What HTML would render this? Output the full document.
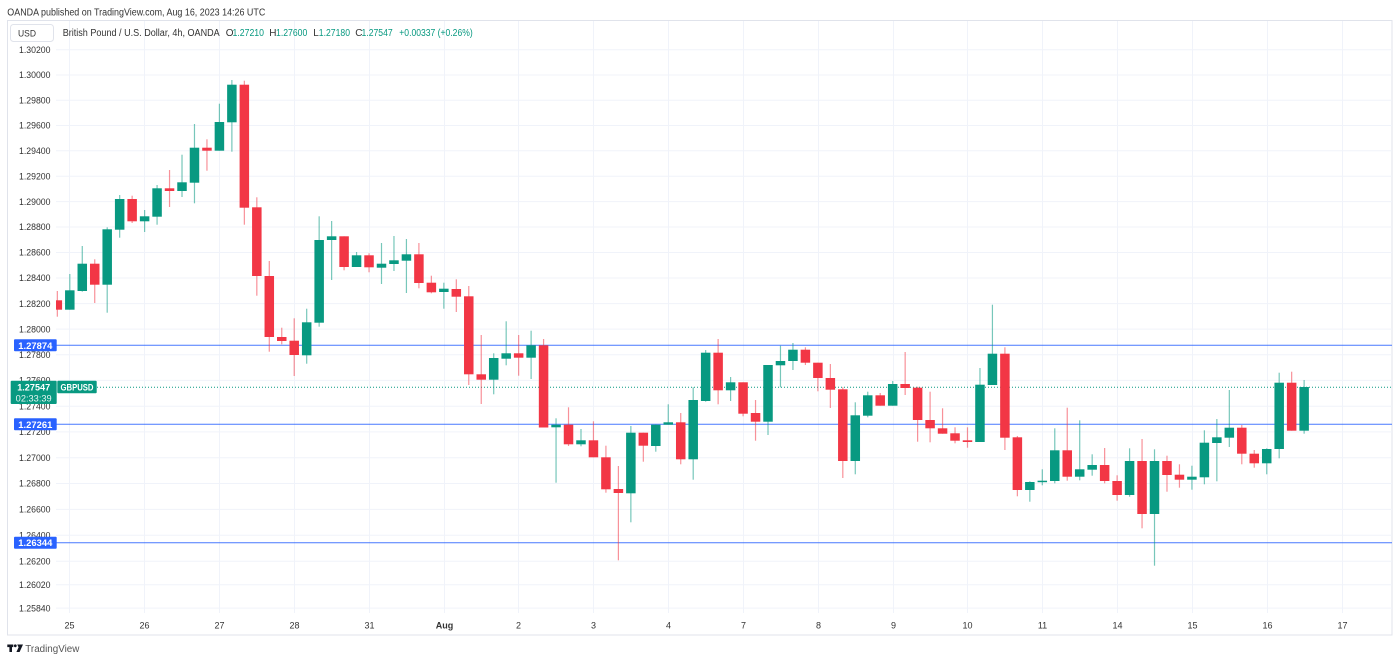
<!DOCTYPE html>
<html>
<head>
<meta charset="utf-8">
<style>
html,body{margin:0;padding:0;background:#fff;}
svg{display:block;}
text{font-family:"Liberation Sans",Arial,sans-serif;}
.g{fill:#089981}.r{fill:#f23645}.w{opacity:.55}
.pl{font-size:9px;fill:#333;text-anchor:end}
.dl{font-size:9px;fill:#333;text-anchor:middle}
.grid line{stroke:#f0f3fa;stroke-width:1}
</style>
</head>
<body>
<svg width="1400" height="662" viewBox="0 0 1400 662" xmlns="http://www.w3.org/2000/svg">
<rect x="0" y="0" width="1400" height="662" fill="#fff"/>
<text x="7.3" y="15.3" font-size="10" fill="#333" textLength="258" lengthAdjust="spacingAndGlyphs">OANDA published on TradingView.com, Aug 16, 2023 14:26 UTC</text>
<rect x="7.5" y="20.5" width="1384.5" height="614.5" fill="none" stroke="#e0e3eb" stroke-width="1"/>

<g class="grid">
<line x1="56" y1="49.8" x2="1392" y2="49.8"/>
<line x1="56" y1="75" x2="1392" y2="75"/>
<line x1="56" y1="100.2" x2="1392" y2="100.2"/>
<line x1="56" y1="125.5" x2="1392" y2="125.5"/>
<line x1="56" y1="150.8" x2="1392" y2="150.8"/>
<line x1="56" y1="176.2" x2="1392" y2="176.2"/>
<line x1="56" y1="201.6" x2="1392" y2="201.6"/>
<line x1="56" y1="227" x2="1392" y2="227"/>
<line x1="56" y1="252.5" x2="1392" y2="252.5"/>
<line x1="56" y1="278" x2="1392" y2="278"/>
<line x1="56" y1="303.6" x2="1392" y2="303.6"/>
<line x1="56" y1="329.1" x2="1392" y2="329.1"/>
<line x1="56" y1="354.8" x2="1392" y2="354.8"/>
<line x1="56" y1="380.4" x2="1392" y2="380.4"/>
<line x1="56" y1="406.2" x2="1392" y2="406.2"/>
<line x1="56" y1="431.9" x2="1392" y2="431.9"/>
<line x1="56" y1="457.7" x2="1392" y2="457.7"/>
<line x1="56" y1="483.5" x2="1392" y2="483.5"/>
<line x1="56" y1="509.4" x2="1392" y2="509.4"/>
<line x1="56" y1="535.3" x2="1392" y2="535.3"/>
<line x1="56" y1="561.3" x2="1392" y2="561.3"/>
<line x1="56" y1="584.7" x2="1392" y2="584.7"/>
<line x1="56" y1="608.1" x2="1392" y2="608.1"/>
<line x1="69.5" y1="21" x2="69.5" y2="613"/>
<line x1="144.5" y1="21" x2="144.5" y2="613"/>
<line x1="219.5" y1="21" x2="219.5" y2="613"/>
<line x1="294.5" y1="21" x2="294.5" y2="613"/>
<line x1="369.5" y1="21" x2="369.5" y2="613"/>
<line x1="444.5" y1="21" x2="444.5" y2="613"/>
<line x1="518.5" y1="21" x2="518.5" y2="613"/>
<line x1="593.5" y1="21" x2="593.5" y2="613"/>
<line x1="668.5" y1="21" x2="668.5" y2="613"/>
<line x1="743.5" y1="21" x2="743.5" y2="613"/>
<line x1="818.5" y1="21" x2="818.5" y2="613"/>
<line x1="893.5" y1="21" x2="893.5" y2="613"/>
<line x1="967.5" y1="21" x2="967.5" y2="613"/>
<line x1="1042.5" y1="21" x2="1042.5" y2="613"/>
<line x1="1117.5" y1="21" x2="1117.5" y2="613"/>
<line x1="1192.5" y1="21" x2="1192.5" y2="613"/>
<line x1="1267.5" y1="21" x2="1267.5" y2="613"/>
<line x1="1342.5" y1="21" x2="1342.5" y2="613"/>
</g>

<g>
<text class="pl" x="50.5" y="53" textLength="31.5" lengthAdjust="spacingAndGlyphs">1.30200</text>
<text class="pl" x="50.5" y="78.2" textLength="31.5" lengthAdjust="spacingAndGlyphs">1.30000</text>
<text class="pl" x="50.5" y="103.4" textLength="31.5" lengthAdjust="spacingAndGlyphs">1.29800</text>
<text class="pl" x="50.5" y="128.7" textLength="31.5" lengthAdjust="spacingAndGlyphs">1.29600</text>
<text class="pl" x="50.5" y="154" textLength="31.5" lengthAdjust="spacingAndGlyphs">1.29400</text>
<text class="pl" x="50.5" y="179.4" textLength="31.5" lengthAdjust="spacingAndGlyphs">1.29200</text>
<text class="pl" x="50.5" y="204.8" textLength="31.5" lengthAdjust="spacingAndGlyphs">1.29000</text>
<text class="pl" x="50.5" y="230.2" textLength="31.5" lengthAdjust="spacingAndGlyphs">1.28800</text>
<text class="pl" x="50.5" y="255.7" textLength="31.5" lengthAdjust="spacingAndGlyphs">1.28600</text>
<text class="pl" x="50.5" y="281.2" textLength="31.5" lengthAdjust="spacingAndGlyphs">1.28400</text>
<text class="pl" x="50.5" y="306.8" textLength="31.5" lengthAdjust="spacingAndGlyphs">1.28200</text>
<text class="pl" x="50.5" y="332.3" textLength="31.5" lengthAdjust="spacingAndGlyphs">1.28000</text>
<text class="pl" x="50.5" y="358" textLength="31.5" lengthAdjust="spacingAndGlyphs">1.27800</text>
<text class="pl" x="50.5" y="383.6" textLength="31.5" lengthAdjust="spacingAndGlyphs">1.27600</text>
<text class="pl" x="50.5" y="409.4" textLength="31.5" lengthAdjust="spacingAndGlyphs">1.27400</text>
<text class="pl" x="50.5" y="435.1" textLength="31.5" lengthAdjust="spacingAndGlyphs">1.27200</text>
<text class="pl" x="50.5" y="460.9" textLength="31.5" lengthAdjust="spacingAndGlyphs">1.27000</text>
<text class="pl" x="50.5" y="486.7" textLength="31.5" lengthAdjust="spacingAndGlyphs">1.26800</text>
<text class="pl" x="50.5" y="512.6" textLength="31.5" lengthAdjust="spacingAndGlyphs">1.26600</text>
<text class="pl" x="50.5" y="538.5" textLength="31.5" lengthAdjust="spacingAndGlyphs">1.26400</text>
<text class="pl" x="50.5" y="564.5" textLength="31.5" lengthAdjust="spacingAndGlyphs">1.26200</text>
<text class="pl" x="50.5" y="587.9" textLength="31.5" lengthAdjust="spacingAndGlyphs">1.26020</text>
<text class="pl" x="50.5" y="611.3" textLength="31.5" lengthAdjust="spacingAndGlyphs">1.25840</text>
</g>

<g>
<text class="dl" x="69.5" y="628.3">25</text>
<text class="dl" x="144.5" y="628.3">26</text>
<text class="dl" x="219.5" y="628.3">27</text>
<text class="dl" x="294.5" y="628.3">28</text>
<text class="dl" x="369.5" y="628.3">31</text>
<text class="dl" x="444.5" y="628.3" font-weight="bold">Aug</text>
<text class="dl" x="518.5" y="628.3">2</text>
<text class="dl" x="593.5" y="628.3">3</text>
<text class="dl" x="668.5" y="628.3">4</text>
<text class="dl" x="743.5" y="628.3">7</text>
<text class="dl" x="818.5" y="628.3">8</text>
<text class="dl" x="893.5" y="628.3">9</text>
<text class="dl" x="967.5" y="628.3">10</text>
<text class="dl" x="1042.5" y="628.3">11</text>
<text class="dl" x="1117.5" y="628.3">14</text>
<text class="dl" x="1192.5" y="628.3">15</text>
<text class="dl" x="1267.5" y="628.3">16</text>
<text class="dl" x="1342.5" y="628.3">17</text>
</g>

<defs><clipPath id="pc"><rect x="56" y="21" width="1336" height="592"/></clipPath></defs>

<g clip-path="url(#pc)">
<line x1="56" y1="345.3" x2="1392" y2="345.3" stroke="#2962ff" stroke-width="1" opacity=".85"/>
<line x1="56" y1="424.3" x2="1392" y2="424.3" stroke="#2962ff" stroke-width="1" opacity=".85"/>
<line x1="56" y1="542.7" x2="1392" y2="542.7" stroke="#2962ff" stroke-width="1" opacity=".85"/>
<line x1="97" y1="387.3" x2="1392" y2="387.3" stroke="#089981" stroke-width="1" stroke-dasharray="1,2"/>

<rect class="r w" x="56.73" y="291" width="1.2" height="25.7"/><rect class="r" x="52.58" y="300.3" width="9.5" height="9.4"/>
<rect class="g w" x="69.2" y="274" width="1.2" height="35.7"/><rect class="g" x="65.05" y="290.3" width="9.5" height="19.4"/>
<rect class="g w" x="81.67" y="246" width="1.2" height="45.7"/><rect class="g" x="77.52" y="263.7" width="9.5" height="27.3"/>
<rect class="r w" x="94.13" y="259.3" width="1.2" height="43.7"/><rect class="r" x="89.98" y="263.7" width="9.5" height="21"/>
<rect class="g w" x="106.6" y="227.3" width="1.2" height="85.4"/><rect class="g" x="102.45" y="229.3" width="9.5" height="55.4"/>
<rect class="g w" x="119.07" y="195" width="1.2" height="42.7"/><rect class="g" x="114.92" y="199" width="9.5" height="30.7"/>
<rect class="r w" x="131.54" y="195.7" width="1.2" height="27.3"/><rect class="r" x="127.39" y="199" width="9.5" height="22.3"/>
<rect class="g w" x="144.01" y="210" width="1.2" height="22"/><rect class="g" x="139.86" y="216.3" width="9.5" height="5"/>
<rect class="g w" x="156.47" y="185" width="1.2" height="39.7"/><rect class="g" x="152.32" y="188.3" width="9.5" height="28.4"/>
<rect class="r w" x="168.94" y="170" width="1.2" height="37"/><rect class="r" x="164.79" y="188.3" width="9.5" height="2.7"/>
<rect class="g w" x="181.41" y="154.7" width="1.2" height="42.3"/><rect class="g" x="177.26" y="182.3" width="9.5" height="8.7"/>
<rect class="g w" x="193.88" y="124" width="1.2" height="79.3"/><rect class="g" x="189.73" y="147.7" width="9.5" height="35"/>
<rect class="r w" x="206.35" y="139.3" width="1.2" height="31.4"/><rect class="r" x="202.2" y="147.7" width="9.5" height="3"/>
<rect class="g w" x="218.81" y="103.7" width="1.2" height="47"/><rect class="g" x="214.66" y="122" width="9.5" height="28.7"/>
<rect class="g w" x="231.28" y="80" width="1.2" height="71.7"/><rect class="g" x="227.13" y="84.7" width="9.5" height="37.6"/>
<rect class="r w" x="243.75" y="80.7" width="1.2" height="144"/><rect class="r" x="239.6" y="84.7" width="9.5" height="123"/>
<rect class="r w" x="256.22" y="197.3" width="1.2" height="98.4"/><rect class="r" x="252.07" y="207.3" width="9.5" height="68.7"/>
<rect class="r w" x="268.69" y="261" width="1.2" height="90.7"/><rect class="r" x="264.54" y="276" width="9.5" height="61"/>
<rect class="r w" x="281.15" y="327.7" width="1.2" height="16.6"/><rect class="r" x="277" y="337" width="9.5" height="4"/>
<rect class="r w" x="293.62" y="318.3" width="1.2" height="57.7"/><rect class="r" x="289.47" y="340.7" width="9.5" height="14.3"/>
<rect class="g w" x="306.09" y="308.7" width="1.2" height="55"/><rect class="g" x="301.94" y="322.3" width="9.5" height="33"/>
<rect class="g w" x="318.56" y="216.3" width="1.2" height="110.4"/><rect class="g" x="314.41" y="240" width="9.5" height="82.7"/>
<rect class="g w" x="331.03" y="221" width="1.2" height="59"/><rect class="g" x="326.88" y="236.3" width="9.5" height="3.7"/>
<rect class="r w" x="343.49" y="236.3" width="1.2" height="34"/><rect class="r" x="339.34" y="236.3" width="9.5" height="30.7"/>
<rect class="g w" x="355.96" y="252" width="1.2" height="15"/><rect class="g" x="351.81" y="255.3" width="9.5" height="11.7"/>
<rect class="r w" x="368.43" y="253.3" width="1.2" height="19"/><rect class="r" x="364.28" y="255.3" width="9.5" height="12"/>
<rect class="g w" x="380.9" y="243" width="1.2" height="41"/><rect class="g" x="376.75" y="263.7" width="9.5" height="4"/>
<rect class="g w" x="393.37" y="236" width="1.2" height="35"/><rect class="g" x="389.22" y="260.3" width="9.5" height="3.7"/>
<rect class="g w" x="405.83" y="239" width="1.2" height="54"/><rect class="g" x="401.68" y="254.3" width="9.5" height="6.4"/>
<rect class="r w" x="418.3" y="243" width="1.2" height="45.3"/><rect class="r" x="414.15" y="254.3" width="9.5" height="28.7"/>
<rect class="r w" x="430.77" y="275.7" width="1.2" height="17.6"/><rect class="r" x="426.62" y="282.7" width="9.5" height="9.6"/>
<rect class="g w" x="443.24" y="282.7" width="1.2" height="26"/><rect class="g" x="439.09" y="288.7" width="9.5" height="3.3"/>
<rect class="r w" x="455.71" y="279.3" width="1.2" height="32.7"/><rect class="r" x="451.56" y="289" width="9.5" height="7.7"/>
<rect class="r w" x="468.17" y="286" width="1.2" height="99"/><rect class="r" x="464.02" y="296.3" width="9.5" height="78"/>
<rect class="r w" x="480.64" y="335" width="1.2" height="69"/><rect class="r" x="476.49" y="374.3" width="9.5" height="5.4"/>
<rect class="g w" x="493.11" y="353.3" width="1.2" height="41"/><rect class="g" x="488.96" y="358" width="9.5" height="21.7"/>
<rect class="g w" x="505.58" y="321.3" width="1.2" height="44"/><rect class="g" x="501.43" y="353.3" width="9.5" height="5.4"/>
<rect class="r w" x="518.05" y="335" width="1.2" height="40.7"/><rect class="r" x="513.9" y="353.3" width="9.5" height="4.4"/>
<rect class="g w" x="530.51" y="330.7" width="1.2" height="48.3"/><rect class="g" x="526.36" y="345.3" width="9.5" height="12.4"/>
<rect class="r w" x="542.98" y="339" width="1.2" height="88.5"/><rect class="r" x="538.83" y="345.3" width="9.5" height="82.2"/>
<rect class="g w" x="555.45" y="418.3" width="1.2" height="64.4"/><rect class="g" x="551.3" y="424.7" width="9.5" height="2.6"/>
<rect class="r w" x="567.92" y="407.3" width="1.2" height="38.7"/><rect class="r" x="563.77" y="424.7" width="9.5" height="19.6"/>
<rect class="g w" x="580.39" y="429" width="1.2" height="17.3"/><rect class="g" x="576.24" y="440.3" width="9.5" height="4"/>
<rect class="r w" x="592.85" y="421.3" width="1.2" height="36"/><rect class="r" x="588.7" y="440.3" width="9.5" height="17"/>
<rect class="r w" x="605.32" y="445.7" width="1.2" height="47"/><rect class="r" x="601.17" y="457.3" width="9.5" height="32"/>
<rect class="r w" x="617.79" y="466" width="1.2" height="94.3"/><rect class="r" x="613.64" y="489" width="9.5" height="4"/>
<rect class="g w" x="630.26" y="426" width="1.2" height="96.3"/><rect class="g" x="626.11" y="432.7" width="9.5" height="60.6"/>
<rect class="r w" x="642.73" y="432.7" width="1.2" height="29"/><rect class="r" x="638.58" y="432.7" width="9.5" height="13"/>
<rect class="g w" x="655.19" y="424.7" width="1.2" height="27"/><rect class="g" x="651.04" y="424.7" width="9.5" height="21.3"/>
<rect class="g w" x="667.66" y="404.3" width="1.2" height="20.4"/><rect class="g" x="663.51" y="422.3" width="9.5" height="2.4"/>
<rect class="r w" x="680.13" y="413" width="1.2" height="51.3"/><rect class="r" x="675.98" y="422.3" width="9.5" height="37"/>
<rect class="g w" x="692.6" y="387.3" width="1.2" height="92.4"/><rect class="g" x="688.45" y="400" width="9.5" height="59.3"/>
<rect class="g w" x="705.07" y="350" width="1.2" height="51.7"/><rect class="g" x="700.92" y="352.7" width="9.5" height="48.3"/>
<rect class="r w" x="717.53" y="339" width="1.2" height="65.3"/><rect class="r" x="713.38" y="352.7" width="9.5" height="37.6"/>
<rect class="g w" x="730" y="377" width="1.2" height="24"/><rect class="g" x="725.85" y="382.3" width="9.5" height="8"/>
<rect class="r w" x="742.47" y="382.3" width="1.2" height="34"/><rect class="r" x="738.32" y="382.3" width="9.5" height="31.4"/>
<rect class="r w" x="754.94" y="400" width="1.2" height="40.7"/><rect class="r" x="750.79" y="413" width="9.5" height="8.7"/>
<rect class="g w" x="767.41" y="365" width="1.2" height="70"/><rect class="g" x="763.26" y="365" width="9.5" height="56.7"/>
<rect class="g w" x="779.87" y="345.7" width="1.2" height="41.6"/><rect class="g" x="775.72" y="361" width="9.5" height="4.3"/>
<rect class="g w" x="792.34" y="343" width="1.2" height="27"/><rect class="g" x="788.19" y="349.7" width="9.5" height="11.3"/>
<rect class="r w" x="804.81" y="347.3" width="1.2" height="17.7"/><rect class="r" x="800.66" y="349.7" width="9.5" height="13"/>
<rect class="r w" x="817.28" y="362.7" width="1.2" height="28.6"/><rect class="r" x="813.13" y="362.7" width="9.5" height="15.3"/>
<rect class="r w" x="829.75" y="364" width="1.2" height="44"/><rect class="r" x="825.6" y="378" width="9.5" height="11.7"/>
<rect class="r w" x="842.21" y="387.3" width="1.2" height="90.7"/><rect class="r" x="838.06" y="389.3" width="9.5" height="71.7"/>
<rect class="g w" x="854.68" y="402.3" width="1.2" height="72"/><rect class="g" x="850.53" y="415.3" width="9.5" height="45.7"/>
<rect class="g w" x="867.15" y="391.7" width="1.2" height="25.6"/><rect class="g" x="863" y="395.3" width="9.5" height="20.4"/>
<rect class="r w" x="879.62" y="393" width="1.2" height="12.7"/><rect class="r" x="875.47" y="395.3" width="9.5" height="10.4"/>
<rect class="g w" x="892.09" y="381" width="1.2" height="24.7"/><rect class="g" x="887.94" y="384" width="9.5" height="21.7"/>
<rect class="r w" x="904.55" y="352" width="1.2" height="43"/><rect class="r" x="900.4" y="384" width="9.5" height="4"/>
<rect class="r w" x="917.02" y="386.7" width="1.2" height="55"/><rect class="r" x="912.87" y="387.7" width="9.5" height="32.3"/>
<rect class="r w" x="929.49" y="391.7" width="1.2" height="50.6"/><rect class="r" x="925.34" y="420" width="9.5" height="8.3"/>
<rect class="r w" x="941.96" y="408.3" width="1.2" height="25.4"/><rect class="r" x="937.81" y="428.3" width="9.5" height="5.4"/>
<rect class="r w" x="954.43" y="427.3" width="1.2" height="16"/><rect class="r" x="950.28" y="433.3" width="9.5" height="7.4"/>
<rect class="r w" x="966.89" y="427.3" width="1.2" height="20.4"/><rect class="r" x="962.74" y="440.3" width="9.5" height="1.7"/>
<rect class="g w" x="979.36" y="368" width="1.2" height="74"/><rect class="g" x="975.21" y="384.7" width="9.5" height="57.3"/>
<rect class="g w" x="991.83" y="304.7" width="1.2" height="80.3"/><rect class="g" x="987.68" y="353.7" width="9.5" height="31.3"/>
<rect class="r w" x="1004.3" y="347.3" width="1.2" height="102.7"/><rect class="r" x="1000.15" y="353.7" width="9.5" height="84"/>
<rect class="r w" x="1016.77" y="436" width="1.2" height="60.3"/><rect class="r" x="1012.62" y="437.3" width="9.5" height="52.7"/>
<rect class="g w" x="1029.23" y="481.3" width="1.2" height="20.4"/><rect class="g" x="1025.08" y="482" width="9.5" height="8"/>
<rect class="g w" x="1041.7" y="469.3" width="1.2" height="16"/><rect class="g" x="1037.55" y="480.7" width="9.5" height="1.5"/>
<rect class="g w" x="1054.17" y="428.3" width="1.2" height="55"/><rect class="g" x="1050.02" y="450.3" width="9.5" height="30.7"/>
<rect class="r w" x="1066.64" y="407.7" width="1.2" height="73"/><rect class="r" x="1062.49" y="450.3" width="9.5" height="26.4"/>
<rect class="g w" x="1079.11" y="420.3" width="1.2" height="60"/><rect class="g" x="1074.96" y="469.3" width="9.5" height="7.4"/>
<rect class="g w" x="1091.57" y="454.3" width="1.2" height="21.4"/><rect class="g" x="1087.42" y="465" width="9.5" height="4.7"/>
<rect class="r w" x="1104.04" y="448" width="1.2" height="35.3"/><rect class="r" x="1099.89" y="465" width="9.5" height="16"/>
<rect class="r w" x="1116.51" y="475.3" width="1.2" height="25.4"/><rect class="r" x="1112.36" y="481" width="9.5" height="14"/>
<rect class="g w" x="1128.98" y="448.3" width="1.2" height="48.4"/><rect class="g" x="1124.83" y="461" width="9.5" height="34"/>
<rect class="r w" x="1141.45" y="439" width="1.2" height="89.3"/><rect class="r" x="1137.3" y="461" width="9.5" height="53"/>
<rect class="g w" x="1153.91" y="449.3" width="1.2" height="116.4"/><rect class="g" x="1149.76" y="461" width="9.5" height="53"/>
<rect class="r w" x="1166.38" y="455.7" width="1.2" height="36"/><rect class="r" x="1162.23" y="461" width="9.5" height="14"/>
<rect class="r w" x="1178.85" y="464.3" width="1.2" height="23.4"/><rect class="r" x="1174.7" y="474.7" width="9.5" height="5"/>
<rect class="g w" x="1191.32" y="465.7" width="1.2" height="24"/><rect class="g" x="1187.17" y="476.7" width="9.5" height="3"/>
<rect class="g w" x="1203.79" y="430.3" width="1.2" height="54"/><rect class="g" x="1199.64" y="442.7" width="9.5" height="34.6"/>
<rect class="g w" x="1216.25" y="419" width="1.2" height="62.3"/><rect class="g" x="1212.1" y="437.3" width="9.5" height="5.7"/>
<rect class="g w" x="1228.72" y="390" width="1.2" height="57"/><rect class="g" x="1224.57" y="427.7" width="9.5" height="10"/>
<rect class="r w" x="1241.19" y="425" width="1.2" height="39.3"/><rect class="r" x="1237.04" y="427.7" width="9.5" height="26"/>
<rect class="r w" x="1253.66" y="450" width="1.2" height="17.7"/><rect class="r" x="1249.51" y="453.7" width="9.5" height="9.6"/>
<rect class="g w" x="1266.13" y="448.3" width="1.2" height="26"/><rect class="g" x="1261.98" y="449" width="9.5" height="14.3"/>
<rect class="g w" x="1278.59" y="372.7" width="1.2" height="85.6"/><rect class="g" x="1274.44" y="382.7" width="9.5" height="66.3"/>
<rect class="r w" x="1291.06" y="371.7" width="1.2" height="59"/><rect class="r" x="1286.91" y="382.7" width="9.5" height="48"/>
<rect class="g w" x="1303.53" y="380" width="1.2" height="53.7"/><rect class="g" x="1299.38" y="387" width="9.5" height="43.7"/>
</g>

<!-- blue level labels -->
<rect x="14" y="339.3" width="42.7" height="12" fill="#2962ff" rx="1"/>
<text x="35.3" y="348.8" font-size="9.5" font-weight="bold" fill="#fff" text-anchor="middle" textLength="34" lengthAdjust="spacingAndGlyphs">1.27874</text>
<rect x="14" y="418.3" width="42.7" height="12" fill="#2962ff" rx="1"/>
<text x="35.3" y="427.8" font-size="9.5" font-weight="bold" fill="#fff" text-anchor="middle" textLength="34" lengthAdjust="spacingAndGlyphs">1.27261</text>
<rect x="14" y="536.7" width="42.7" height="12" fill="#2962ff" rx="1"/>
<text x="35.3" y="546.2" font-size="9.5" font-weight="bold" fill="#fff" text-anchor="middle" textLength="34" lengthAdjust="spacingAndGlyphs">1.26344</text>

<!-- current price label -->
<rect x="10.7" y="380.7" width="46" height="23.3" fill="#089981" rx="1"/>
<text x="33.7" y="390.3" font-size="9.5" font-weight="bold" fill="#fff" text-anchor="middle" textLength="33" lengthAdjust="spacingAndGlyphs">1.27547</text>
<text x="33.7" y="401.6" font-size="9" fill="#e6f5f1" text-anchor="middle" textLength="36" lengthAdjust="spacingAndGlyphs">02:33:39</text>
<rect x="57.3" y="380.7" width="39.4" height="12.6" fill="#089981" rx="1"/>
<text x="77" y="390.3" font-size="9" font-weight="bold" fill="#fff" text-anchor="middle" textLength="33" lengthAdjust="spacingAndGlyphs">GBPUSD</text>

<!-- legend -->
<rect x="10.5" y="24.5" width="43" height="17" rx="3" fill="#fff" stroke="#e0e3eb" stroke-width="1"/>
<text x="18" y="36.3" font-size="9.5" fill="#333" textLength="18" lengthAdjust="spacingAndGlyphs">USD</text>
<text x="62.7" y="35.8" font-size="10" fill="#333" textLength="157" lengthAdjust="spacingAndGlyphs">British Pound / U.S. Dollar, 4h, OANDA</text>
<text x="225.7" y="35.8" font-size="10" fill="#333">O</text>
<text x="232.5" y="35.8" font-size="10" fill="#089981" textLength="31.5" lengthAdjust="spacingAndGlyphs">1.27210</text>
<text x="269.3" y="35.8" font-size="10" fill="#333">H</text>
<text x="276" y="35.8" font-size="10" fill="#089981" textLength="31.3" lengthAdjust="spacingAndGlyphs">1.27600</text>
<text x="313.3" y="35.8" font-size="10" fill="#333">L</text>
<text x="318.8" y="35.8" font-size="10" fill="#089981" textLength="31.2" lengthAdjust="spacingAndGlyphs">1.27180</text>
<text x="355.3" y="35.8" font-size="10" fill="#333">C</text>
<text x="361.5" y="35.8" font-size="10" fill="#089981" textLength="31.2" lengthAdjust="spacingAndGlyphs">1.27547</text>
<text x="399.3" y="35.8" font-size="10" fill="#089981" textLength="73.4" lengthAdjust="spacingAndGlyphs">+0.00337 (+0.26%)</text>

<!-- footer logo -->
<g fill="#131722">
<rect x="7.3" y="644.5" width="6" height="2.6"/>
<rect x="9.4" y="644.5" width="2.6" height="7.5"/>
<circle cx="15.3" cy="645.8" r="1.4"/>
<polygon points="17.2,644.5 23,644.5 19.6,652 16.4,652 18.6,647.2"/>
</g>
<text x="25.3" y="651.8" font-size="10" fill="#555" textLength="54" lengthAdjust="spacingAndGlyphs">TradingView</text>
</svg>
</body>
</html>
